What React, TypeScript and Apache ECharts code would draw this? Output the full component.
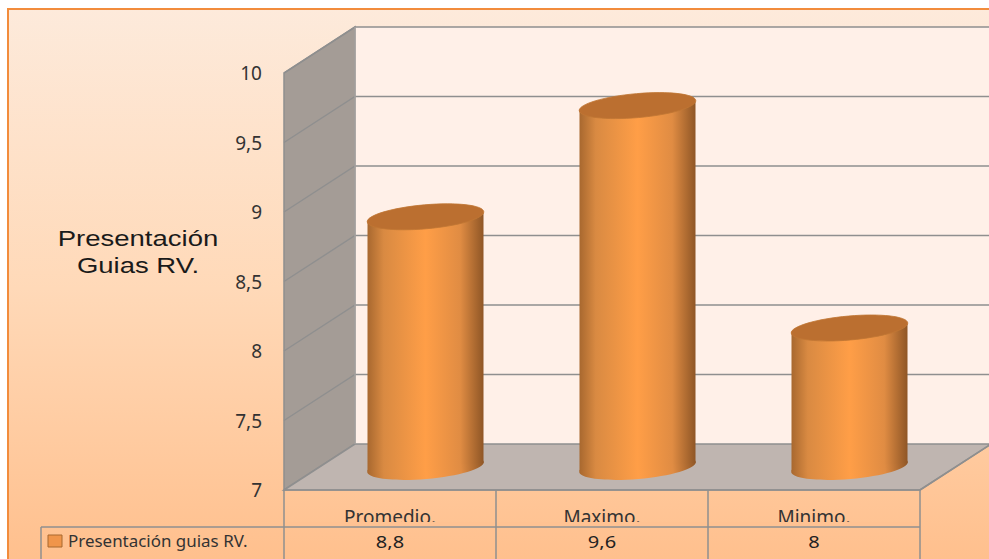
import React, { useEffect, useRef } from "react";
import * as echarts from "echarts";

const categories = ["Promedio.", "Maximo.", "Minimo."];
const seriesName = "Presentación guias RV.";
const values = [8.8, 9.6, 8];
const valueLabels = ["8,8", "9,6", "8"];
const yMin = 7;
const yMax = 10;
const yStep = 0.5;
const titleText = "Presentación\nGuias RV.";

const W = 989, H = 559;
const G = { left: 284, right: 69, top: 73, bottom: 69 };
const DX = 71, DY = -46;
const LINE = "#8f8f8f";
const FONT = "'Noto Sans', sans-serif";

const barFill = () => new echarts.graphic.LinearGradient(0, 0, 1, 0, [
  { offset: 0, color: "#a8682f" }, { offset: 0.14, color: "#d98a42" },
  { offset: 0.5, color: "#ff9e47" }, { offset: 0.8, color: "#e08c43" },
  { offset: 1, color: "#8f5626" },
]);

export default function App() {
  const ref = useRef<HTMLDivElement>(null);
  useEffect(() => {
    const chart = echarts.init(ref.current!, undefined, { renderer: "svg" });
    const ticks: number[] = [];
    for (let v = yMin; v <= yMax + 1e-9; v += yStep) ticks.push(v);

    const frame = (params: any, api: any) => {
      if (params.dataIndex !== 0) return { type: "group", children: [] };
      const p0 = api.coord([0, yMin]);
      const bw = api.size([1, 0])[0];
      const l = p0[0] - bw / 2, r = l + bw * 3, b = p0[1];
      const t = api.coord([0, yMax])[1];
      const ch: any[] = [];
      ch.push({ type: "rect", shape: { x: l + DX, y: t + DY, width: r - l + 10, height: b - t }, style: { fill: "#fff0e8" } });
      ch.push({ type: "polygon", shape: { points: [[l, b], [l + DX, b + DY], [l + DX, t + DY], [l, t]] }, style: { fill: "#a49c96", stroke: LINE, lineWidth: 1.5 } });
      ch.push({ type: "polygon", shape: { points: [[l, b], [l + DX, b + DY], [r + DX, b + DY], [r, b]] }, style: { fill: "#bfb5b0", stroke: LINE, lineWidth: 1.5 } });
      ticks.forEach((v) => {
        const y = api.coord([0, v])[1];
        if (v > yMin) {
          ch.push({ type: "polyline", shape: { points: [[l, y], [l + DX, y + DY], [W + 5, y + DY]] }, style: { fill: "none", stroke: LINE, lineWidth: 1.4 } });
        }
      });
      ch.push({ type: "line", shape: { x1: l + DX, y1: t + DY, x2: l + DX, y2: b + DY }, style: { stroke: "#b0aaa6", lineWidth: 1 } });
      return { type: "group", children: ch };
    };

    const cylinder = (params: any, api: any) => {
      const top = api.coord([api.value(0), api.value(1)]);
      const base = api.coord([api.value(0), yMin]);
      const cx = top[0] + DX / 2;
      const a = 58.5, bb = 12, rot = (5 * Math.PI) / 180, e = 4, hw = 58;
      const ty = top[1] + DY / 2, by = base[1] + DY / 2;
      return {
        type: "group",
        children: [
          { type: "ellipse", x: cx, y: by, rotation: rot, shape: { cx: 0, cy: 0, rx: a, ry: bb }, style: { fill: barFill() } },
          { type: "polygon", shape: { points: [[cx - hw, ty + e], [cx + hw, ty - e], [cx + hw, by - e], [cx - hw, by + e]] }, style: { fill: barFill() } },
          { type: "ellipse", x: cx, y: ty, rotation: rot, shape: { cx: 0, cy: 0, rx: a, ry: bb }, style: { fill: "#bb6f30", stroke: "#c07634", lineWidth: 0.8 } },
        ],
      };
    };

    const table = (params: any, api: any) => {
      if (params.dataIndex !== 0) return { type: "group", children: [] };
      const p0 = api.coord([0, yMin]);
      const bw = api.size([1, 0])[0];
      const l = p0[0] - bw / 2, b = p0[1], r = l + bw * 3, rowY = b + 37;
      const ch: any[] = [];
      const ln = (x1: number, y1: number, x2: number, y2: number) => ch.push({ type: "line", shape: { x1, y1, x2, y2 }, style: { stroke: LINE, lineWidth: 1.5 } });
      // the reference's category labels are cut off just above the row line
      ch.push({ type: "rect", shape: { x: l + 1, y: rowY - 5, width: r - l - 2, height: 5 }, style: { fill: "#ffc292" } });
      ln(l, b, r, b);
      ln(41, rowY, r, rowY);
      ln(41, rowY, 41, H);
      for (let i = 0; i <= 3; i++) ln(l + bw * i, b, l + bw * i, H);
      ch.push({ type: "line", shape: { x1: r, y1: b, x2: r + DX, y2: b + DY }, style: { stroke: LINE, lineWidth: 1.5 } });
      ch.push({ type: "rect", shape: { x: 48, y: rowY + 8, width: 14, height: 12 }, style: { fill: "#f0954a", stroke: "#a8682f", lineWidth: 1 } });
      ch.push({ type: "text", x: 68, y: rowY + 14, scaleX: 1.06, style: { text: seriesName, font: `16px ${FONT}`, fill: "#333", verticalAlign: "middle", align: "left" } });
      valueLabels.forEach((s, i) => {
        ch.push({ type: "text", x: l + bw * (i + 0.5), y: rowY + 14, scaleX: 1.18, style: { text: s, font: `17px ${FONT}`, fill: "#222", verticalAlign: "middle", align: "center" } });
      });
      return { type: "group", children: ch };
    };

    const data = categories.map((_, i) => [i, values[i]]);
    chart.setOption({
      animation: false,
      backgroundColor: "#ffffff",
      graphic: [
        {
          type: "rect", z: -10, shape: { x: 8, y: 9, width: W, height: H },
          style: {
            stroke: "#f28c3c", lineWidth: 2,
            fill: new echarts.graphic.LinearGradient(0, 0, 0, 1, [
              { offset: 0, color: "#fdeadb" }, { offset: 0.5, color: "#ffd9b8" }, { offset: 1, color: "#ffbf8c" },
            ]),
          },
        },
        {
          type: "text", x: 138, y: 252, scaleX: 1.25, z: 5,
          style: { text: titleText, font: "22px 'Liberation Sans', sans-serif", fill: "#1a1a1a", align: "center", verticalAlign: "middle", lineHeight: 27 },
        },
      ],
      grid: { left: G.left, right: G.right, top: G.top, bottom: G.bottom, containLabel: false },
      xAxis: {
        type: "category", data: categories, axisLine: { show: false }, axisTick: { show: false },
        axisLabel: { color: "#333", fontFamily: FONT, fontSize: 19, margin: 17 },
      },
      yAxis: {
        type: "value", min: yMin, max: yMax, interval: yStep, splitLine: { show: false },
        axisLine: { show: false }, axisTick: { show: false },
        axisLabel: {
          color: "#333", fontFamily: FONT, fontSize: 19, margin: 22, padding: [2, 0, 0, 0],
          formatter: (v: number) => String(v).replace(".", ","),
        },
      },
      series: [
        { type: "custom", name: "frame", z: 1, data, renderItem: frame, silent: true },
        { type: "custom", name: seriesName, z: 3, data, renderItem: cylinder, encode: { x: 0, y: 1 } },
        { type: "custom", name: "table", z: 4, data, renderItem: table, silent: true },
      ],
    });
    return () => chart.dispose();
  }, []);
  return <div ref={ref} style={{ position: "absolute", left: 0, top: 0, width: W, height: H }} />;
}
